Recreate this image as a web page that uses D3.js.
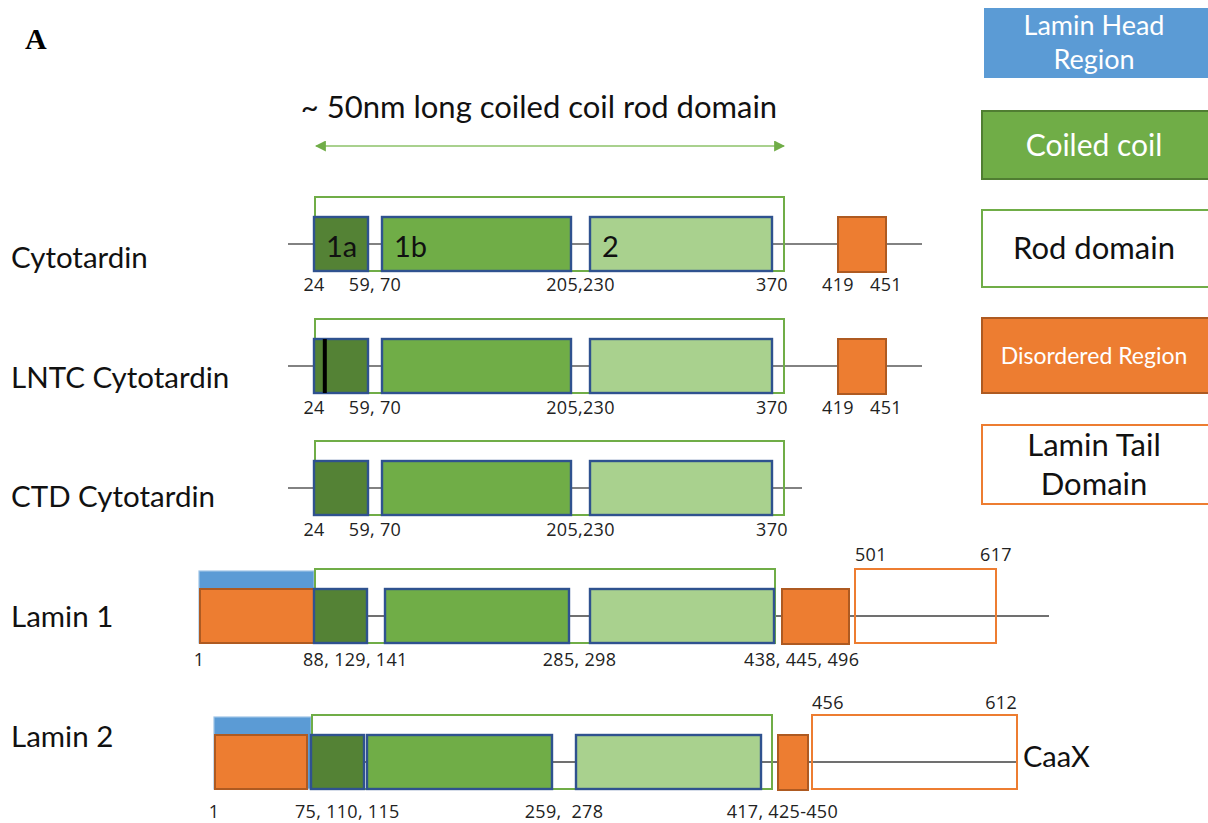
<!DOCTYPE html>
<html><head><meta charset="utf-8">
<script src="https://cdn.jsdelivr.net/npm/d3@7"></script>
<style>body{margin:0;background:#fff} svg{display:block}</style>
</head><body>
<svg id="chart" width="1208" height="823"></svg>
<script>
// ================= DATA (residue numbers) =================
const rowNames = ["Cytotardin", "LNTC Cytotardin", "CTD Cytotardin", "Lamin 1", "Lamin 2"];

// Cytotardin (shared by the three cytotardin constructs)
const cytoCoils = [
  { seg: "1a", start: 24, end: 59, shade: "dark" },
  { seg: "1b", start: 70, end: 205, shade: "mid" },
  { seg: "2", start: 230, end: 370, shade: "light" }
];
const cytoRod = [24, 370];
const cytoDisordered = [[419, 451]];
const lntcMutation = 31; // position of the black bar (estimated)
const cytoLabels = [
  { text: "24", at: [24] }, { text: "59, 70", at: [59, 70] },
  { text: "205,230", at: [205, 230] }, { text: "370", at: [370] },
  { text: "419", at: [419] }, { text: "451", at: [451] }
];
const cytoTruncLabels = cytoLabels.slice(0, 4);

// Lamin 1
const lamin1Head = [1, 88];
const lamin1Coils = [
  { seg: "1a", start: 88, end: 129, shade: "dark" },
  { seg: "1b", start: 141, end: 285, shade: "mid" },
  { seg: "2", start: 298, end: 438, shade: "light" }
];
const lamin1Rod = [88, 438];
const lamin1Disordered = [[445, 496]];
const lamin1Tail = [501, 617];
const lamin1Labels = [
  { text: "1", at: [1] }, { text: "88, 129, 141", at: [88, 129, 141] },
  { text: "285, 298", at: [285, 298] }, { text: "438, 445, 496", at: [438, 445, 496] }
];
const lamin1TopLabels = [{ text: "501", at: 501, side: "start" }, { text: "617", at: 617, side: "middle" }];

// Lamin 2
const lamin2Head = [1, 75];
const lamin2Coils = [
  { seg: "1a", start: 75, end: 110, shade: "dark" },
  { seg: "1b", start: 115, end: 259, shade: "mid" },
  { seg: "2", start: 278, end: 417, shade: "light" }
];
const lamin2Rod = [75, 417];
const lamin2Disordered = [[425, 450]];
const lamin2Tail = [456, 612];
const lamin2Labels = [
  { text: "1", at: [1] }, { text: "75, 110, 115", at: [75, 110, 115] },
  { text: "259,  278", at: [259, 278] }, { text: "417, 425-450", at: [417, 425, 450] }
];
const lamin2TopLabels = [{ text: "456", at: 456, side: "start" }, { text: "612", at: 612, side: "end" }];
const lamin2Motif = "CaaX";

const legendLabels = [["Lamin Head", "Region"], ["Coiled coil"], ["Rod domain"], ["Disordered Region"], ["Lamin Tail", "Domain"]];
const legendTypes = ["head", "coil", "rod", "dis", "tail"];

const titleText = "~ 50nm long coiled coil rod domain";
const panelLetter = "A";

// ================= SCALES (schematic, piecewise-linear residue -> px) =================
const cytoX = d3.scaleLinear()
  .domain([24, 59, 70, 205, 230, 370, 419, 451])
  .range([314, 368, 382, 571, 590, 772, 838, 886]);
const lamin1X = d3.scaleLinear()
  .domain([1, 88, 129, 141, 285, 298, 438, 445, 496, 501, 617])
  .range([199, 314, 367, 385, 569, 590, 774, 782, 849, 855, 996]);
const lamin2X = d3.scaleLinear()
  .domain([1, 75, 110, 115, 259, 278, 417, 425, 450, 456, 612])
  .range([214, 311, 364, 367, 552, 576, 761, 778, 808, 812, 1017]);

const rowY = d3.scaleOrdinal().domain(rowNames).range([244, 366, 488, 616, 762]);
const rowLabelY = d3.scaleOrdinal().domain(rowNames).range([258, 378, 497, 617, 737]);

const C = {
  dark: "#548235", mid: "#70AD47", light: "#A9D18E",
  boxStroke: "#2F528F", rod: "#70AD47", orange: "#ED7D31", orangeStroke: "#AE5A21",
  blue: "#5B9BD5", blueStroke: "#41719C", line: "#595959", coilStroke: "#507E32"
};
const SANS = "Lato, 'Open Sans', sans-serif";
const NUM = "'Open Sans', sans-serif";

const svg = d3.select("#chart");

// panel letter
svg.append("text").attr("x", 25).attr("y", 49)
  .attr("font-family", "'Liberation Serif', serif").attr("font-weight", "bold")
  .attr("font-size", 30).text(panelLetter);

// title + arrow
svg.append("text").attr("x", 539).attr("y", 118).attr("text-anchor", "middle")
  .attr("font-family", SANS).attr("font-size", 31).attr("fill", "#111").text(titleText);

const defs = svg.append("defs");
defs.append("marker").attr("id", "ah").attr("viewBox", "0 0 10 10")
  .attr("refX", 9).attr("refY", 5).attr("markerWidth", 11).attr("markerHeight", 11)
  .attr("markerUnits", "userSpaceOnUse").attr("orient", "auto-start-reverse")
  .append("path").attr("d", "M0,0 L10,5 L0,10 Z").attr("fill", C.mid);
svg.append("line")
  .attr("x1", cytoX(cytoRod[0]) + 2).attr("x2", cytoX(cytoRod[1]) + 12)
  .attr("y1", 146).attr("y2", 146)
  .attr("stroke", C.light).attr("stroke-width", 2.2)
  .attr("marker-start", "url(#ah)").attr("marker-end", "url(#ah)");

// ================= ROWS =================
const BOX_H = 54, ROD_RISE = 20;

function drawRow(cfg) {
  const g = svg.append("g");
  const yc = rowY(cfg.name);
  const top = yc - 27, bottom = top + BOX_H;
  const x = cfg.x;

  // row label
  svg.append("text").attr("x", 11).attr("y", rowLabelY(cfg.name)).attr("dy", "0.35em")
    .attr("font-family", SANS).attr("font-size", 29.5).attr("fill", "#111").text(cfg.name);

  // backbone line
  g.append("line").attr("x1", cfg.line[0]).attr("x2", cfg.line[1])
    .attr("y1", yc).attr("y2", yc).attr("stroke", cfg.lineColor || C.line).attr("stroke-width", cfg.lineW || 1.6);

  // head region
  if (cfg.head) {
    g.append("rect").attr("x", x(cfg.head[0])).attr("y", top - ROD_RISE + 2)
      .attr("width", x(cfg.head[1]) - x(cfg.head[0])).attr("height", BOX_H + ROD_RISE - 2)
      .attr("fill", C.blue).attr("stroke", "#9DC3E6").attr("stroke-width", 1.2);
    g.append("rect").attr("x", x(cfg.head[0]) + 1).attr("y", top)
      .attr("width", x(cfg.head[1]) - x(cfg.head[0]) - (cfg.headInset || 1)).attr("height", BOX_H)
      .attr("fill", C.orange).attr("stroke", C.orangeStroke).attr("stroke-width", 2);
  }

  // rod outline
  g.append("rect").attr("x", x(cfg.rod[0]) + 1).attr("y", top - ROD_RISE)
    .attr("width", x(cfg.rod[1]) + cfg.rodPad - x(cfg.rod[0]) - 1).attr("height", BOX_H + ROD_RISE)
    .attr("fill", "none").attr("stroke", C.rod).attr("stroke-width", 2);

  // coiled coil segments
  g.selectAll(".cc").data(cfg.coils).join("rect").attr("class", "cc")
    .attr("x", d => x(d.start)).attr("y", top)
    .attr("width", d => x(d.end) - x(d.start)).attr("height", BOX_H)
    .attr("fill", d => C[d.shade]).attr("stroke", C.boxStroke).attr("stroke-width", 2.4);

  if (cfg.segLabels) {
    g.selectAll(".sl").data(cfg.coils).join("text").attr("class", "sl")
      .attr("x", d => x(d.start) + 12).attr("y", top + 40)
      .attr("font-family", SANS).attr("font-size", 29).attr("fill", "#111").text(d => d.seg);
  }

  if (cfg.mutation) {
    g.append("rect").attr("x", x(cfg.mutation) - 2).attr("y", top)
      .attr("width", 4).attr("height", BOX_H).attr("fill", "#000");
  }

  // disordered regions
  g.selectAll(".dis").data(cfg.disordered || []).join("rect").attr("class", "dis")
    .attr("x", d => x(d[0])).attr("y", top)
    .attr("width", d => x(d[1]) - x(d[0])).attr("height", BOX_H + 1)
    .attr("fill", C.orange).attr("stroke", C.orangeStroke).attr("stroke-width", 2);

  // tail domain
  if (cfg.tail) {
    g.append("rect").attr("x", x(cfg.tail[0])).attr("y", top - ROD_RISE)
      .attr("width", x(cfg.tail[1]) - x(cfg.tail[0])).attr("height", BOX_H + ROD_RISE)
      .attr("fill", "none").attr("stroke", C.orange).attr("stroke-width", 2);
  }

  // bottom labels
  if (cfg.labels) {
    g.selectAll(".bl").data(cfg.labels).join("text").attr("class", "bl")
      .attr("x", d => d3.mean(d.at, v => x(v))).attr("y", bottom + cfg.labelGap)
      .attr("text-anchor", "middle").attr("font-family", NUM).attr("font-size", 18)
      .attr("letter-spacing", 0.3).attr("fill", "#222").style("white-space", "pre").text(d => d.text);
  }
  if (cfg.topLabels) {
    g.selectAll(".tl").data(cfg.topLabels).join("text").attr("class", "tl")
      .attr("x", d => x(d.at)).attr("y", top - ROD_RISE - cfg.topGap)
      .attr("text-anchor", d => d.side).attr("font-family", NUM).attr("font-size", 18)
      .attr("letter-spacing", 0.3).attr("fill", "#222").text(d => d.text);
  }
  if (cfg.motif) {
    g.append("text").attr("x", x(cfg.tail[1]) + 6).attr("y", yc - 5).attr("dy", "0.35em")
      .attr("font-family", SANS).attr("font-size", 29).attr("fill", "#111").text(cfg.motif);
  }
}

drawRow({ name: "Cytotardin", x: cytoX, coils: cytoCoils, rod: cytoRod, rodPad: 12,
  disordered: cytoDisordered, segLabels: true, labels: cytoLabels, labelGap: 20,
  line: [cytoX(24) - 26, cytoX(451) + 36] });
drawRow({ name: "LNTC Cytotardin", x: cytoX, coils: cytoCoils, rod: cytoRod, rodPad: 12,
  disordered: cytoDisordered, mutation: lntcMutation, labels: cytoLabels, labelGap: 21,
  line: [cytoX(24) - 26, cytoX(451) + 36] });
drawRow({ name: "CTD Cytotardin", x: cytoX, coils: cytoCoils, rod: cytoRod, rodPad: 12,
  labels: cytoTruncLabels, labelGap: 21,
  line: [cytoX(24) - 26, cytoX(370) + 30] });
drawRow({ name: "Lamin 1", x: lamin1X, coils: lamin1Coils, rod: lamin1Rod, rodPad: 1,
  head: lamin1Head, disordered: lamin1Disordered, tail: lamin1Tail,
  labels: lamin1Labels, labelGap: 23, topLabels: lamin1TopLabels, topGap: 8,
  line: [lamin1X(88), lamin1X(617) + 53], lineColor: "#404040", lineW: 1.3 });
drawRow({ name: "Lamin 2", x: lamin2X, coils: lamin2Coils, rod: lamin2Rod, rodPad: 11,
  head: lamin2Head, headInset: 5, disordered: lamin2Disordered, tail: lamin2Tail,
  labels: lamin2Labels, labelGap: 29, topLabels: lamin2TopLabels, topGap: 6,
  line: [lamin2X(75) - 5, lamin2X(612)], lineColor: "#404040", lineW: 1.3, motif: lamin2Motif });

// ================= LEGEND =================
const legY = d3.scaleOrdinal().domain(legendTypes).range([8, 111, 210, 318, 425]);
const legH = d3.scaleOrdinal().domain(legendTypes).range([70, 68, 77, 75, 79]);
const legStyle = {
  head: { fill: C.blue, stroke: "none", text: "#fff", size: 27, lh: 34 },
  coil: { fill: C.mid, stroke: C.coilStroke, text: "#fff", size: 30, lh: 38 },
  rod: { fill: "#fff", stroke: C.rod, text: "#111", size: 31, lh: 38 },
  dis: { fill: C.orange, stroke: C.orangeStroke, text: "#fff", size: 23, lh: 30 },
  tail: { fill: "#fff", stroke: C.orange, text: "#111", size: 31, lh: 39 }
};
const leg = svg.append("g");
const items = leg.selectAll("g").data(legendTypes.map((t, i) => ({ type: t, lines: legendLabels[i] })))
  .join("g");
items.append("rect")
  .attr("x", d => d.type === "head" ? 984 : 982).attr("y", d => legY(d.type))
  .attr("width", 240).attr("height", d => legH(d.type))
  .attr("fill", d => legStyle[d.type].fill).attr("stroke", d => legStyle[d.type].stroke)
  .attr("stroke-width", 2);
items.each(function (d) {
  const s = legStyle[d.type];
  const cy = legY(d.type) + legH(d.type) / 2;
  d3.select(this).selectAll("text").data(d.lines).join("text")
    .attr("x", 1094).attr("y", (l, i) => cy + (i - (d.lines.length - 1) / 2) * s.lh)
    .attr("dy", "0.35em").attr("text-anchor", "middle")
    .attr("font-family", SANS).attr("font-size", s.size).attr("fill", s.text).text(l => l);
});
</script>
</body></html>
